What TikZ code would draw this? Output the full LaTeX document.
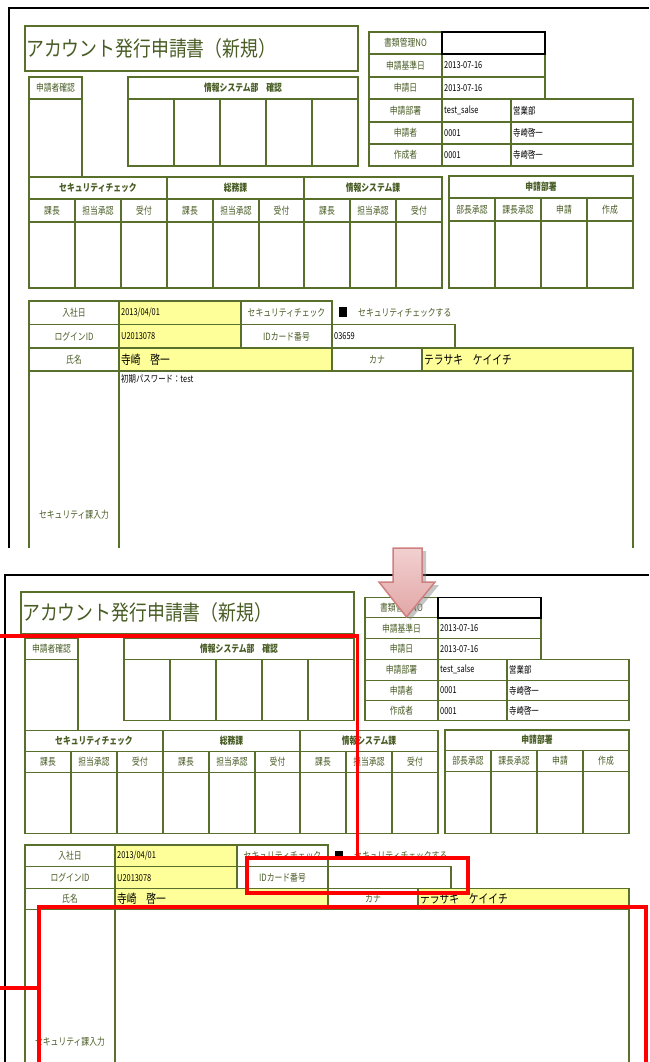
\documentclass[tikz,border=0pt]{standalone}
\usepackage{fontspec}
\newfontfamily\jp[FakeStretch=0.78]{Noto Sans CJK JP}
\newfontfamily\jpt[FakeStretch=0.85]{Noto Sans CJK JP}
\definecolor{lineg}{RGB}{88,112,44}
\definecolor{txtg}{RGB}{72,92,36}
\definecolor{yel}{RGB}{255,255,153}
\definecolor{arrtop}{RGB}{242,208,208}
\definecolor{arrbot}{RGB}{226,166,166}
\definecolor{arrdraw}{RGB}{205,128,128}
\tikzset{
  grid/.style={draw=lineg, line width=1.1pt},
  lbl/.style={text=txtg, font=\jp\fontsize{10}{11}\selectfont, inner sep=0pt},
  hdr/.style={text=txtg, font=\jp\bfseries\fontsize{10}{11}\selectfont, inner sep=0pt},
  val/.style={text=black, font=\jp\fontsize{9.5}{10}\selectfont, inner sep=0pt, anchor=west},
  bigval/.style={text=black, font=\jp\fontsize{12.5}{13}\selectfont, inner sep=0pt, anchor=west},
  ttl/.style={text=txtg, font=\jpt\fontsize{21}{23}\selectfont, inner sep=0pt, anchor=west},
  redbox/.style={draw=red, line width=3.5pt, inner sep=0pt},
  redline/.style={draw=red, line width=3.5pt},
  frameline/.style={draw=black, line width=1.2pt},
}
% #1 = lower end of the big input box, #2 = extra content
\newcommand{\formpanel}[2]{%
  % title
  \draw[grid] (25,26) rectangle (358,71);
  \node[ttl] (title) at (26,48.5) {アカウント発行申請書（新規）};
  % applicant confirmation
  \draw[grid] (29,77) rectangle (82,177);
  \draw[grid] (29,99) -- (82,99);
  \node[lbl] (sqk) at (55.5,88) {申請者確認};
  % IS dept confirmation
  \draw[grid] (128,77) rectangle (358,166);
  \draw[grid] (128,99) -- (358,99);
  \draw[grid] (174,99) -- (174,166) (220,99) -- (220,166) (266,99) -- (266,166) (312,99) -- (312,166);
  \node[hdr] (isk) at (243,88) {情報システム部　確認};
  % right info table
  \draw[grid] (369,32) rectangle (545,99);
  \draw[grid] (369,54) -- (545,54) (369,77) -- (545,77) (442,32) -- (442,99);
  \draw[grid] (369,99) rectangle (633,166);
  \draw[grid] (369,122) -- (633,122) (369,144) -- (633,144) (442,99) -- (442,166) (511,99) -- (511,166);
  \draw[black, line width=1.8pt] (442,32) rectangle (545,54);
  \node[lbl] (r1) at (405.5,43) {書類管理NO};
  \node[lbl] (r2) at (405.5,65.5) {申請基準日};
  \node[lbl] (r3) at (405.5,88) {申請日};
  \node[lbl] (r4) at (405.5,110.5) {申請部署};
  \node[lbl] (r5) at (405.5,133) {申請者};
  \node[lbl] (r6) at (405.5,155) {作成者};
  \node[val] (v2) at (444,65.5) {2013-07-16};
  \node[val] (v3) at (444,88) {2013-07-16};
  \node[val] (v4) at (444,110.5) {test\_salse};
  \node[val] (v5) at (444,133) {0001};
  \node[val] (v6) at (444,155) {0001};
  \node[val] (w4) at (513,110.5) {営業部};
  \node[val] (w5) at (513,133) {寺崎啓一};
  \node[val] (w6) at (513,155) {寺崎啓一};
  % security approval table
  \draw[grid] (29,177) rectangle (442,288);
  \draw[grid] (29,199) -- (442,199) (29,222) -- (442,222);
  \draw[grid] (167,177) -- (167,288) (304,177) -- (304,288);
  \draw[grid] (75,199) -- (75,288) (121,199) -- (121,288) (213,199) -- (213,288)
              (259,199) -- (259,288) (350,199) -- (350,288) (396,199) -- (396,288);
  \node[hdr] (g1) at (98,188) {セキュリティチェック};
  \node[hdr] (g2) at (235.5,188) {総務課};
  \node[hdr] (g3) at (373,188) {情報システム課};
  \node[lbl] (s1) at (52,210.5) {課長};
  \node[lbl] (s2) at (98,210.5) {担当承認};
  \node[lbl] (s3) at (144,210.5) {受付};
  \node[lbl] (s4) at (190,210.5) {課長};
  \node[lbl] (s5) at (236,210.5) {担当承認};
  \node[lbl] (s6) at (281.5,210.5) {受付};
  \node[lbl] (s7) at (327,210.5) {課長};
  \node[lbl] (s8) at (373,210.5) {担当承認};
  \node[lbl] (s9) at (419,210.5) {受付};
  % applicant dept table
  \draw[grid] (449,176) rectangle (633,288);
  \draw[grid] (449,198) -- (633,198) (449,221) -- (633,221);
  \draw[grid] (495,198) -- (495,288) (541,198) -- (541,288) (587,198) -- (587,288);
  \node[hdr] (g4) at (541,187) {申請部署};
  \node[lbl] (t1) at (472,209.5) {部長承認};
  \node[lbl] (t2) at (518,209.5) {課長承認};
  \node[lbl] (t3) at (564,209.5) {申請};
  \node[lbl] (t4) at (610,209.5) {作成};
  % lower form
  \fill[yel] (119,301) rectangle (241,348);
  \fill[yel] (119,348) rectangle (332,371);
  \fill[yel] (422,348) rectangle (633,371);
  \draw[grid] (29,301) rectangle (332,348);
  \draw[grid] (29,324.5) -- (332,324.5) (119,301) -- (119,348) (241,301) -- (241,348);
  \draw[grid] (332,324.5) rectangle (455,348);
  \draw[grid] (29,348) rectangle (633,371);
  \draw[grid] (119,348) -- (119,371) (332,348) -- (332,371) (422,348) -- (422,371);
  \draw[grid] (29,371) -- (29,#1) (119,371) -- (119,#1) (633,371) -- (633,#1);
  \fill[black] (339,307) rectangle (347,317);
  \node[lbl, anchor=west] (chk) at (358,312.5) {セキュリティチェックする};
  \node[lbl] (f1) at (74,313) {入社日};
  \node[val] (f1v) at (121,313) {2013/04/01};
  \node[lbl] (f1b) at (286.5,313) {セキュリティチェック};
  \node[lbl] (f2) at (74,336.5) {ログインID};
  \node[val] (f2v) at (121,336.5) {U2013078};
  \node[lbl] (f2b) at (286.5,336.5) {IDカード番号};
  \node[lbl] (f3) at (74,359.5) {氏名};
  \node[bigval] (f3v) at (121,359.5) {寺崎　啓一};
  \node[lbl] (f3b) at (377,359.5) {カナ};
  \node[bigval] (f3c) at (424,359.5) {テラサキ　ケイイチ};
  \node[lbl] (f4) at (74,515) {セキュリティ課入力};
  #2
}
\begin{document}
\begin{tikzpicture}[x=1pt,y=-1pt]
  \useasboundingbox (0,0) rectangle (649,1062);
  \clip (0,0) rectangle (649,1062);
  \fill[white] (0,0) rectangle (649,1062);
  % top panel
  \draw[frameline] (9,548) -- (9,8) -- (649,8);
  \begin{scope}[name prefix=a-]
    \formpanel{548}{%
      \node[val] (idv) at (334,336.5) {03659};
      \node[val, anchor=north west] (pw) at (121,374) {初期パスワード：test};
    }
  \end{scope}
  % bottom panel
  \draw[frameline] (5,1070) -- (5,575) -- (649,575);
  \begin{scope}[name prefix=b-, xshift=-4pt, yshift=-568.08pt, yscale=0.92]
    \formpanel{545}{}
  \end{scope}
  % red highlights
  \node[redbox, minimum width=221pt, minimum height=35pt] (sr) at (357.5,875.5) {};
  \node[redbox, minimum width=607pt, minimum height=162pt] (br) at (342.5,988) {};
  \coordinate (la) at (0,636);
  \coordinate (lb) at (0,988);
  \draw[redline] (la) -| (sr.north);
  \draw[redline] (lb) -- (br.west);
  % down arrow with shadow
  \fill[gray, opacity=0.45] (397,551) -- (426,551) -- (426,585) -- (439,585) -- (410.5,620) -- (383,585) -- (397,585) -- cycle;
  \shade[top color=arrtop, bottom color=arrbot] (393,548) -- (422,548) -- (422,582) -- (435,582) -- (406.5,617) -- (379,582) -- (393,582) -- cycle;
  \draw[arrdraw, line width=1.5pt, line join=miter] (393,548) -- (422,548) -- (422,582) -- (435,582) -- (406.5,617) -- (379,582) -- (393,582) -- cycle;
\end{tikzpicture}
\end{document}
